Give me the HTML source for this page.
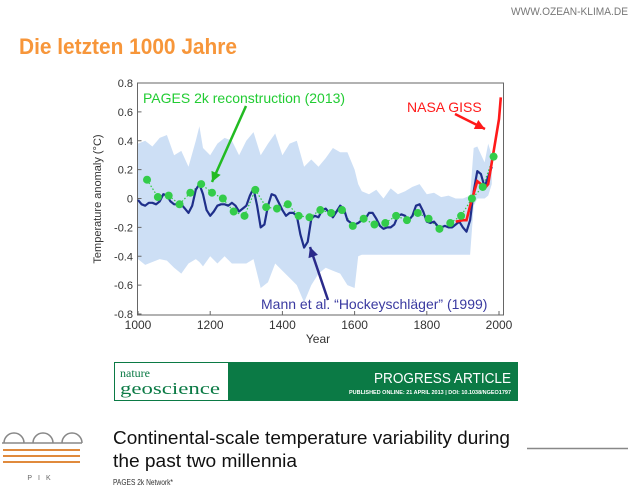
<!DOCTYPE html>
<html><head><meta charset="utf-8"><style>
html,body{margin:0;padding:0;background:#fff;}
svg{display:block;font-family:"Liberation Sans",sans-serif;}
</style></head><body>
<svg id="chart" width="640" height="488" viewBox="0 0 640 488" xmlns="http://www.w3.org/2000/svg">
<text x="628" y="15" font-size="11" fill="#777" text-anchor="end" textLength="117" lengthAdjust="spacingAndGlyphs">WWW.OZEAN-KLIMA.DE</text>
<text x="19" y="54" font-size="22" font-weight="bold" fill="#f7963a" textLength="218" lengthAdjust="spacingAndGlyphs">Die letzten 1000 Jahre</text>
<g id="plot"></g>
<g>
<rect x="114.5" y="362.5" width="403" height="38" fill="#fff" stroke="#0b7a45"/>
<rect x="228" y="363" width="289" height="37" fill="#0b7a45"/>
<text x="120" y="377" font-family="Liberation Serif,serif" font-size="12" fill="#0b7a45">nature</text>
<text x="120" y="394" font-family="Liberation Serif,serif" font-size="17" fill="#0b7a45" textLength="100" lengthAdjust="spacingAndGlyphs">geoscience</text>
<text x="511" y="383" font-size="15" fill="#fff" text-anchor="end" textLength="137" lengthAdjust="spacingAndGlyphs">PROGRESS ARTICLE</text>
<text x="511" y="394" font-size="5" font-weight="bold" fill="#fff" text-anchor="end" textLength="162" lengthAdjust="spacingAndGlyphs">PUBLISHED ONLINE: 21 APRIL 2013 | DOI: 10.1038/NGEO1797</text>
</g>
<text x="113" y="444" font-size="18" fill="#111" textLength="397" lengthAdjust="spacingAndGlyphs">Continental-scale temperature variability during</text>
<text x="113" y="467" font-size="18" fill="#111" textLength="184" lengthAdjust="spacingAndGlyphs">the past two millennia</text>
<text x="113" y="485" font-size="8" fill="#333" textLength="60" lengthAdjust="spacingAndGlyphs">PAGES 2k Network*</text>
<line x1="527" y1="448.5" x2="628" y2="448.5" stroke="#888" stroke-width="1.5"/>
<g fill="none" stroke="#888" stroke-width="1.5">
<path d="M4 443 a10 10 0 0 1 20 0 M33 443 a10 10 0 0 1 20 0 M62 443 a10 10 0 0 1 20 0"/>
<path d="M2 443 h80" />
<g stroke="#e08a3c" stroke-width="2"><path d="M3 450h77 M3 456h77 M3 462h77"/></g>
<text x="42" y="480" font-size="7" fill="#666" stroke="none" text-anchor="middle" letter-spacing="6">PIK</text>
</g>
</svg>
<script>
const years=[1000,1010,1020,1030,1040,1050,1060,1070,1080,1090,1100,1110,1120,1130,1140,1150,1160,1170,1180,1190,1200,1210,1220,1230,1240,1250,1260,1270,1280,1290,1300,1310,1320,1330,1340,1350,1360,1370,1380,1390,1400,1410,1420,1430,1440,1450,1460,1470,1480,1490,1500,1510,1520,1530,1540,1550,1560,1570,1580,1590,1600,1610,1620,1630,1640,1650,1660,1670,1680,1690,1700,1710,1720,1730,1740,1750,1760,1770,1780,1790,1800,1810,1820,1830,1840,1850,1860,1870,1880,1890,1900,1910,1920,1930,1940,1950,1960,1970,1980];
const mannValues=[-0.01,-0.04,-0.05,-0.03,-0.03,-0.04,-0.02,0.03,0.02,-0.02,-0.04,-0.04,-0.04,-0.07,-0.10,-0.05,0.06,0.10,0.03,-0.08,-0.12,-0.09,-0.05,-0.04,-0.04,-0.05,-0.03,-0.05,-0.09,-0.07,-0.05,0.02,0.07,-0.05,-0.20,-0.18,-0.05,0.03,0.02,-0.03,-0.08,-0.12,-0.10,-0.10,-0.12,-0.25,-0.34,-0.30,-0.14,-0.12,-0.13,-0.08,-0.07,-0.10,-0.13,-0.09,-0.05,-0.07,-0.15,-0.17,-0.18,-0.17,-0.15,-0.14,-0.10,-0.10,-0.14,-0.19,-0.21,-0.20,-0.20,-0.18,-0.12,-0.11,-0.12,-0.15,-0.12,-0.05,-0.04,-0.09,-0.16,-0.17,-0.16,-0.19,-0.20,-0.19,-0.20,-0.20,-0.18,-0.16,-0.20,-0.23,-0.15,0.05,0.19,0.17,0.08,0.15,0.22];
const bandYears=[1000,1020,1040,1060,1080,1100,1120,1140,1160,1170,1180,1200,1220,1240,1260,1280,1300,1320,1340,1360,1380,1400,1420,1440,1460,1480,1500,1520,1540,1560,1580,1600,1610,1620,1640,1660,1680,1700,1720,1740,1760,1780,1800,1820,1840,1860,1880,1900,1920,1930,1940,1960,1970,1980];
const bandUpper=[0.38,0.40,0.36,0.42,0.44,0.30,0.33,0.22,0.40,0.50,0.35,0.30,0.38,0.42,0.40,0.30,0.40,0.46,0.30,0.38,0.45,0.30,0.38,0.40,0.22,0.27,0.22,0.28,0.35,0.32,0.32,0.20,0.10,0.05,0.03,0.06,0.00,0.07,0.03,0.05,0.08,0.10,0.03,0.04,0.01,0.02,0.00,0.00,0.02,0.35,0.36,0.25,0.38,0.30];
const bandLower=[-0.42,-0.46,-0.44,-0.42,-0.43,-0.48,-0.52,-0.45,-0.42,-0.44,-0.47,-0.40,-0.45,-0.40,-0.45,-0.45,-0.45,-0.42,-0.62,-0.58,-0.45,-0.50,-0.55,-0.60,-0.72,-0.60,-0.52,-0.48,-0.50,-0.52,-0.60,-0.62,-0.40,-0.39,-0.39,-0.39,-0.39,-0.39,-0.39,-0.39,-0.39,-0.39,-0.39,-0.39,-0.39,-0.39,-0.39,-0.39,-0.39,-0.05,0.00,0.00,0.02,0.10];
const pagesYears=[1025,1055,1085,1115,1145,1175,1205,1235,1265,1295,1325,1355,1385,1415,1445,1475,1505,1535,1565,1595,1625,1655,1685,1715,1745,1775,1805,1835,1865,1895,1925,1955,1985];
const pagesValues=[0.13,0.01,0.02,-0.04,0.04,0.10,0.04,0.00,-0.09,-0.12,0.06,-0.06,-0.07,-0.04,-0.12,-0.13,-0.08,-0.10,-0.08,-0.19,-0.14,-0.18,-0.17,-0.12,-0.15,-0.10,-0.14,-0.21,-0.17,-0.12,0.00,0.08,0.29];
const gissYears=[1880,1900,1910,1920,1940,1950,1960,1970,1980,1990,2000,2005];
const gissValues=[-0.16,-0.15,-0.15,-0.05,0.12,0.10,0.07,0.10,0.25,0.40,0.55,0.70];
const xTicks=[1000,1200,1400,1600,1800,2000];
const yTicks=[-0.8,-0.6,-0.4,-0.2,0,0.2,0.4,0.6,0.8];

const NS="http://www.w3.org/2000/svg";
const plot=document.getElementById('plot');
const X=v=>138+(v-1000)*(499-138)/1000;
const Y=v=>198.5-v*(231/1.6);
function mk(tag,attrs,parent){const e=document.createElementNS(NS,tag);for(const k in attrs)e.setAttribute(k,attrs[k]);(parent||plot).appendChild(e);return e;}
function pathOf(xs,ys){return xs.map((x,i)=>(i?'L':'M')+X(x).toFixed(1)+' '+Y(ys[i]).toFixed(1)).join(' ');}

const frame=mk('rect',{x:137.5,y:83,width:366,height:232,fill:'none',stroke:'#666','stroke-width':1});



let d=pathOf(bandYears,bandUpper);
for(let i=bandYears.length-1;i>=0;i--)d+=' L'+X(bandYears[i]).toFixed(1)+' '+Y(bandLower[i]).toFixed(1);
const band=mk('path',{d:d+'Z',fill:'#cddff5'});



xTicks.forEach(t=>{
  const tk=mk('line',{x1:X(t),x2:X(t),y1:315,y2:311,stroke:'#666'});
  
  
  const lb=mk('text',{x:X(t),y:329,'font-size':12,fill:'#333','text-anchor':'middle'});
  lb.textContent=t;
  
  
});
yTicks.forEach(t=>{
  const tk=mk('line',{x1:137.5,x2:141.5,y1:Y(t),y2:Y(t),stroke:'#666'});
  
  
  const lb=mk('text',{x:133,y:Y(t)+4,'font-size':11,fill:'#333','text-anchor':'end'});
  lb.textContent=(Math.abs(t)<1e-9?'0':t.toFixed(1));
  
  
});
const xt=mk('text',{x:318,y:343,'font-size':12,fill:'#333','text-anchor':'middle'});
xt.textContent='Year';


const yt=mk('text',{x:0,y:0,'font-size':11,fill:'#333','text-anchor':'middle',transform:'translate(101,199) rotate(-90)'});
yt.textContent='Temperature anomaly (°C)';



const pl=mk('path',{d:pathOf(pagesYears,pagesValues),fill:'none',stroke:'#2ecc40','stroke-width':1.2,'stroke-dasharray':'1.5 2'});


const ml=mk('path',{d:pathOf(years,mannValues),fill:'none',stroke:'#1f2f8a','stroke-width':2.2,'stroke-linejoin':'round'});


const gl=mk('path',{d:pathOf(gissYears,gissValues),fill:'none',stroke:'#ff1a1a','stroke-width':2.6});


pagesYears.forEach((yr,i)=>{
  const c=mk('circle',{cx:X(yr),cy:Y(pagesValues[i]),r:4,fill:'#33cc4a'});
  
  
});

function arrow(x1,y1,x2,y2,col,name){
  const g=mk('g',{});
  
  
  mk('line',{x1:x1,y1:y1,x2:x2,y2:y2,stroke:col,'stroke-width':2.5},g);
  const a=Math.atan2(y2-y1,x2-x1),L=10,W=5;
  const bx=x2-L*Math.cos(a),by=y2-L*Math.sin(a);
  mk('polygon',{points:`${x2},${y2} ${bx-W*Math.sin(a)},${by+W*Math.cos(a)} ${bx+W*Math.sin(a)},${by-W*Math.cos(a)}`,fill:col},g);
}
arrow(246,106,212,182,'#22bb22','pages-arrow');
arrow(455,114,485,129,'#ff1a1a','giss-arrow');
arrow(328,300,310,247,'#2a2a8a','mann-arrow');

const t1=mk('text',{x:143,y:103,'font-size':14,fill:'#22cc33'});
t1.textContent='PAGES 2k reconstruction (2013)';


const t2=mk('text',{x:407,y:112,'font-size':14,fill:'#ff1a1a'});
t2.textContent='NASA GISS';


const t3=mk('text',{x:261,y:309,'font-size':14,fill:'#3a3aa0'});
t3.textContent='Mann et al. “Hockeyschläger” (1999)';


</script>
</body></html>
